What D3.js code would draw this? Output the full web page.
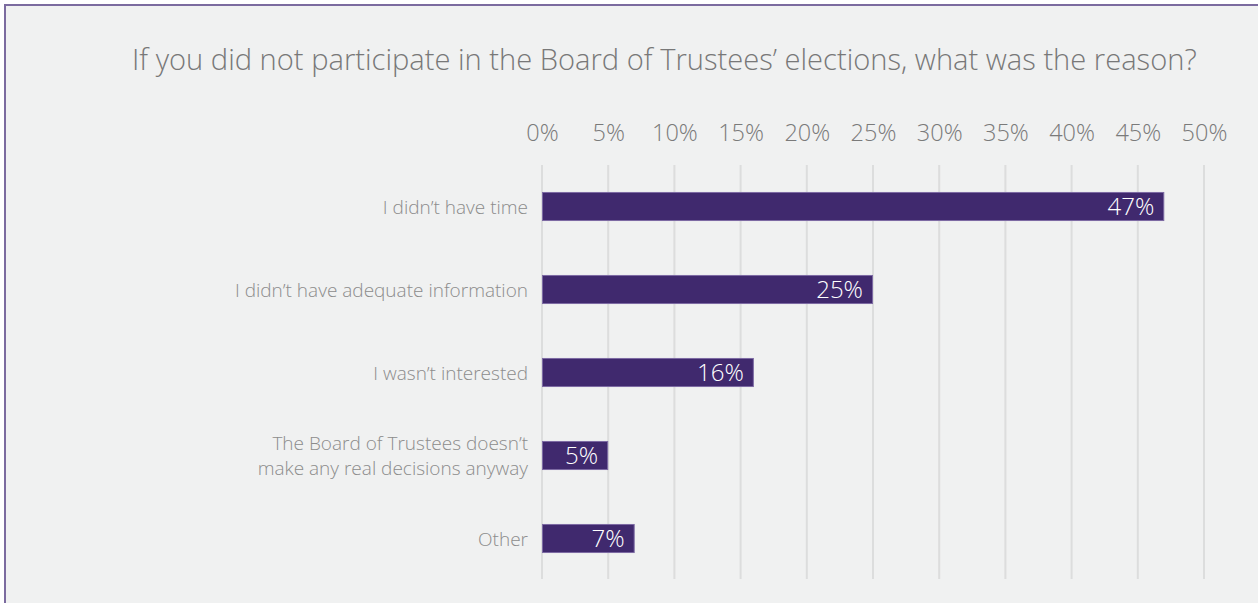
<!DOCTYPE html>
<html>
<head>
<meta charset="utf-8">
<script src="https://cdn.jsdelivr.net/npm/d3@7"></script>
<style>
  html, body { margin: 0; padding: 0; background: #ffffff; }
  svg { display: block; }
  text { font-family: "Open Sans", "Lato", sans-serif; font-weight: 300; }
</style>
</head>
<body>
<svg id="chart" width="1258" height="603"></svg>
<script>
// Survey answers: reasons for not taking part in the Board of Trustees' elections
const titleText = "If you did not participate in the Board of Trustees\u2019 elections, what was the reason?";
const categories = [
  ["I didn\u2019t have time"],
  ["I didn\u2019t have adequate information"],
  ["I wasn\u2019t interested"],
  ["The Board of Trustees doesn\u2019t", "make any real decisions anyway"],
  ["Other"]
];
const values = [47, 25, 16, 5, 7];
const tickValues = [0, 5, 10, 15, 20, 25, 30, 35, 40, 45, 50];

const svg = d3.select("#chart");
const W = 1258, H = 603;

// framed panel
svg.append("rect")
  .attr("x", 5).attr("y", 5)
  .attr("width", W + 20).attr("height", H + 20)
  .attr("fill", "#f0f1f1")
  .attr("stroke", "#7b6b9f")
  .attr("stroke-width", 2);

const plot = { left: 542, right: 1204, top: 165, bottom: 580 };

const x = d3.scaleLinear().domain([0, 50]).range([plot.left, plot.right]);
const y = d3.scaleBand()
  .domain(d3.range(values.length))
  .range([plot.top, plot.bottom])
  .paddingInner(0.65)
  .paddingOuter(0.325);

// title, sized to span its line
const title = svg.append("text")
  .attr("x", 132).attr("y", 70)
  .attr("fill", "#787878")
  .style("font-size", "28px")
  .text(titleText);
const tw = title.node().getComputedTextLength();
title.style("font-size", (28 * 1065 / tw).toFixed(2) + "px");

// vertical grid lines
svg.append("g")
  .selectAll("line")
  .data(tickValues)
  .join("line")
  .attr("x1", d => x(d)).attr("x2", d => x(d))
  .attr("y1", plot.top).attr("y2", plot.bottom - 1)
  .attr("stroke", "#dcdddd")
  .attr("stroke-width", 2);

// top axis labels
const axis = svg.append("g")
  .attr("transform", `translate(0,${plot.top})`)
  .call(d3.axisTop(x).tickValues(tickValues).tickFormat(d => d + "%").tickSize(0).tickPadding(24));
axis.select(".domain").remove();
axis.selectAll("text")
  .attr("fill", "#7a7a7a")
  .style("font-family", "\"Open Sans\", \"Lato\", sans-serif")
  .style("font-weight", 300)
  .style("font-size", "23.5px");

// bars
svg.append("g")
  .selectAll("rect")
  .data(values)
  .join("rect")
  .attr("x", x(0) + 0.5)
  .attr("y", (d, i) => y(i) + 0.5)
  .attr("width", d => x(d) - x(0) - 1)
  .attr("height", y.bandwidth() - 1)
  .attr("fill", "#40296e")
  .attr("stroke", "#7c6aa3")
  .attr("stroke-width", 1);

// value labels inside bar ends
svg.append("g")
  .selectAll("text")
  .data(values)
  .join("text")
  .attr("x", d => x(d) - 10)
  .attr("y", (d, i) => y(i) + y.bandwidth() / 2)
  .attr("dy", "0.36em")
  .attr("text-anchor", "end")
  .attr("fill", "#ffffff")
  .style("font-size", "24px")
  .text(d => d + "%");

// category labels
const lineGap = 25;
const cat = svg.append("g")
  .selectAll("text")
  .data(categories)
  .join("text")
  .attr("x", 528)
  .attr("y", (d, i) => y(i) + y.bandwidth() / 2)
  .attr("text-anchor", "end")
  .attr("fill", "#8c8c8c")
  .style("font-size", "19px");
cat.each(function(lines) {
  const t = d3.select(this);
  const n = lines.length;
  lines.forEach((s, k) => {
    t.append("tspan")
      .attr("x", 528)
      .attr("dy", k === 0 ? ((-(n - 1) / 2) * lineGap + 7) + "px" : lineGap + "px")
      .text(s);
  });
});
</script>
</body>
</html>
